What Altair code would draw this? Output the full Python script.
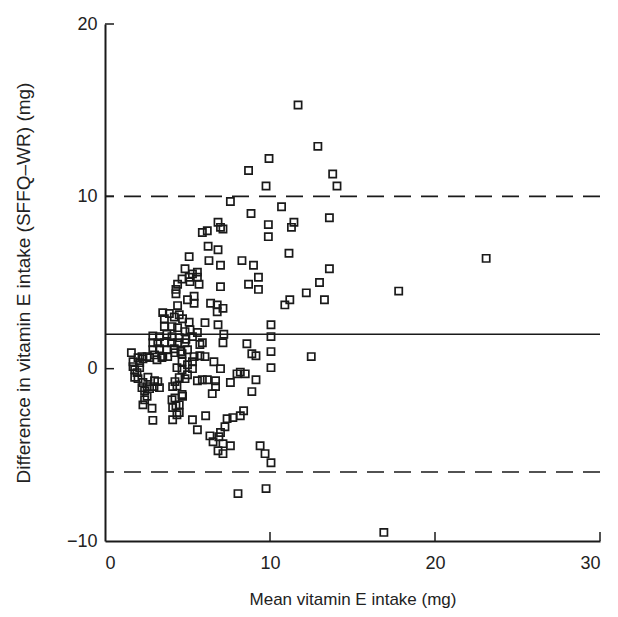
import altair as alt
import pandas as pd

# Bland-Altman data: mean intake (x) and difference SFFQ-WR (y)
mean_x = [11.7, 12.9, 9.94, 8.7, 13.8, 14.06, 9.76, 7.6, 10.7, 8.85,
          13.6, 9.9, 9.9, 11.45, 11.3, 6.85, 7.0, 7.15, 5.9, 6.2,
          6.25, 6.85, 6.3, 7.0, 8.3, 9.0, 11.15, 5.1, 4.85, 5.3,
          5.6, 5.6, 5.1, 4.67, 5.15, 5.7, 4.4, 4.3, 4.3, 7.0,
          8.7, 9.3, 9.3, 23.1, 13.6, 13.0, 12.2, 13.3, 17.8, 11.2,
          10.9, 12.5, 5.0, 5.4, 5.4, 4.4, 6.4, 6.8, 7.15, 6.8,
          3.5, 3.9, 3.6, 4.2, 4.5, 4.7, 5.1, 6.06, 6.85, 3.6,
          4.06, 4.4, 4.85, 5.15, 5.6, 2.9, 3.3, 3.75, 4.06, 4.5,
          4.9, 5.3, 7.2, 2.9, 3.2, 3.6, 4.06, 4.4, 4.85, 5.75,
          5.9, 7.15, 2.9, 3.3, 3.75, 4.2, 4.6, 5.0, 1.6, 2.24,
          2.55, 2.7, 3.0, 3.5, 3.8, 4.24, 4.67, 5.4, 5.75, 6.06,
          1.7, 2.0, 2.1, 2.3, 3.15, 3.45, 4.67, 5.0, 5.3, 6.6,
          7.0, 5.3, 1.8, 1.94, 2.1, 1.8, 2.0, 2.6, 3.0, 3.2,
          2.3, 2.55, 2.24, 2.4, 2.7, 2.97, 3.3, 4.24, 4.5, 4.85,
          5.0, 4.67, 4.36, 4.1, 4.36, 2.55, 2.4, 2.3, 2.85, 2.9,
          4.06, 4.24, 4.1, 4.3, 4.36, 4.5, 4.7, 4.1, 5.3, 6.1,
          5.6, 6.36, 5.6, 5.9, 6.2, 6.7, 6.7, 6.5, 8.0, 8.5,
          7.6, 9.15, 8.9, 8.2, 8.6, 8.9, 9.15, 10.06, 10.06, 10.06,
          10.06, 8.4, 8.2, 7.75, 7.4, 7.27, 6.9, 6.55, 6.85, 7.15,
          7.15, 7.6, 9.4, 9.7, 10.06, 8.06, 9.76, 16.9, 1.7, 4.67,
          4.5, 7.0]
diff_y = [15.3, 12.9, 12.2, 11.5, 11.3, 10.6, 10.6, 9.7, 9.4, 9.0,
          8.76, 8.36, 7.66, 8.5, 8.2, 8.5, 8.2, 8.1, 7.9, 8.0,
          7.1, 6.9, 6.27, 6.0, 6.27, 6.0, 6.7, 6.5, 5.8, 5.5,
          5.6, 5.3, 5.3, 5.2, 5.05, 4.9, 4.9, 4.6, 4.35, 4.76,
          4.9, 5.3, 4.6, 6.4, 5.8, 5.0, 4.4, 4.0, 4.5, 4.0,
          3.7, 0.7, 4.0, 4.2, 3.8, 3.66, 3.8, 3.7, 3.5, 3.3,
          3.25, 3.2, 2.9, 3.0, 3.13, 2.9, 2.7, 2.67, 2.55, 2.44,
          2.44, 2.38, 2.15, 2.26, 2.1, 1.9, 1.86, 2.0, 1.86, 1.8,
          1.7, 1.86, 2.0, 1.5, 1.5, 1.5, 1.5, 1.5, 1.5, 1.4,
          1.5, 1.5, 1.1, 1.16, 1.1, 1.16, 1.0, 1.1, 0.93, 0.7,
          0.7, 0.64, 0.8, 0.7, 0.7, 0.93, 0.87, 0.7, 0.75, 0.7,
          0.4, 0.64, 0.35, 0.58, 0.52, 0.64, 0.4, 0.23, 0.4, 0.4,
          0.0, 0.0, -0.06, -0.23, 0.06, -0.5, -0.58, -0.5, -0.7, -0.75,
          -0.8, -1.04, -1.1, -1.28, -1.16, -1.04, -1.1, -0.75, -0.52, -0.58,
          -0.35, -0.06, 0.06, -1.04, -1.0, -1.6, -1.8, -2.1, -2.3, -3.0,
          -1.8, -1.7, -2.26, -2.15, -2.67, -2.55, -1.6, -2.96, -2.96, -2.73,
          -3.54, -3.9, -0.7, -0.64, -0.64, -0.7, -1.04, -1.45, -0.3, -0.3,
          -0.8, -0.64, -1.33, -0.2, 1.45, 0.87, 0.75, 2.55, 1.86, 0.99,
          0.06, -2.44, -2.73, -2.84, -2.9, -3.37, -3.95, -4.24, -4.76, -4.93,
          -4.35, -4.47, -4.47, -4.93, -5.46, -7.25, -6.96, -9.5, 0.12, -1.5,
          -2.1, -3.7]

bias_line = [2.0]
limit_lines = [10.0, -6.0]
y_tick_values = [-10, 0, 10, 20]
x_tick_values = [0, 10, 20, 30]

W, H = 495, 517
ink = "#1a1a1a"

df = pd.DataFrame({"mean": mean_x, "diff": diff_y})
xscale = alt.Scale(domain=[0, 30], nice=False)
yscale = alt.Scale(domain=[-10, 20], nice=False)

points = alt.Chart(df).mark_point(
    shape="square", filled=False, size=52, color=ink, strokeWidth=1.7, opacity=1
).encode(
    x=alt.X("mean:Q", scale=xscale,
            axis=alt.Axis(title="Mean vitamin E intake (mg)", values=x_tick_values,
                          labelPadding=13, titlePadding=19, titleFontSize=17)),
    y=alt.Y("diff:Q", scale=yscale,
            axis=alt.Axis(title="Difference in vitamin E intake (SFFQ–WR) (mg)",
                          values=y_tick_values, labelPadding=8, titlePadding=33,
                          titleFontSize=19)),
)

bias = alt.Chart(pd.DataFrame({"y": bias_line})).mark_rule(
    color=ink, strokeWidth=1.5
).encode(y=alt.Y("y:Q", scale=yscale))

limits = alt.Chart(pd.DataFrame({"y": limit_lines})).mark_rule(
    color=ink, strokeWidth=1.6, strokeDash=[17, 10]
).encode(y=alt.Y("y:Q", scale=yscale))

ytk = alt.Chart(pd.DataFrame({"v": y_tick_values[1:]})).mark_rule(
    color=ink, strokeWidth=1.5
).encode(y=alt.Y("v:Q", scale=yscale), x=alt.value(0), x2=alt.value(9))

xtk = alt.Chart(pd.DataFrame({"v": x_tick_values[1:]})).mark_rule(
    color=ink, strokeWidth=1.5
).encode(x=alt.X("v:Q", scale=xscale), y=alt.value(H), y2=alt.value(H - 9))

chart = alt.layer(limits, bias, points, ytk, xtk).properties(
    width=W, height=H,
    padding={"left": 97, "top": 16, "right": 10, "bottom": 70},
    autosize=alt.AutoSizeParams(type="none"),
).configure_view(stroke=None).configure_axis(
    grid=False, ticks=False, domainColor=ink, domainWidth=2,
    labelFont="Liberation Sans", titleFont="Liberation Sans",
    labelFontSize=18, titleFontSize=17, labelColor="#222", titleColor="#222",
    titleFontWeight="normal",
)

chart.save("out.html", embed_options={"renderer": "svg", "actions": False})
